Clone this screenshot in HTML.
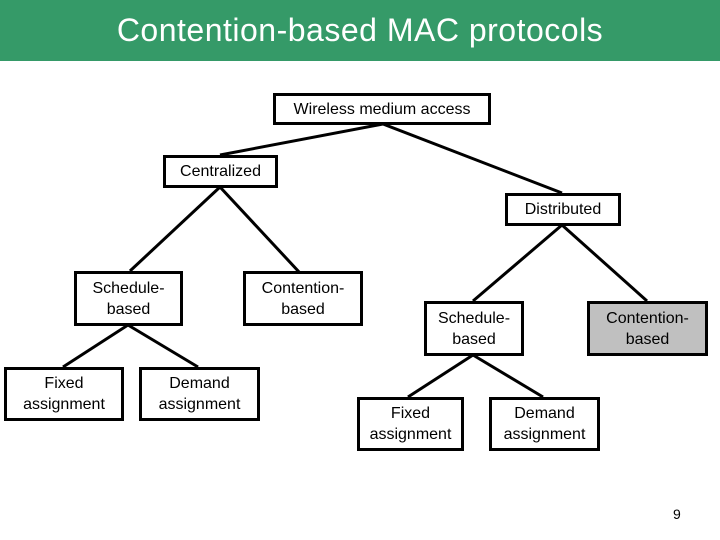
<!DOCTYPE html>
<html><head><style>
body{margin:0;width:720px;height:540px;background:#fff;position:relative;overflow:hidden;font-family:"Liberation Sans",sans-serif;}
.hd{position:absolute;left:0;top:0;width:720px;height:61px;background:#359a68;color:#fff;font-size:32px;text-align:center;line-height:60px;letter-spacing:0.5px}
.b{position:absolute;box-sizing:border-box;border:3px solid #000;background:#fff;display:flex;align-items:center;justify-content:center;text-align:center;font-size:16px;line-height:21px;color:#000}
svg{position:absolute;left:0;top:0}
</style></head><body>
<div class="hd">Contention-based MAC protocols</div>
<svg width="720" height="540"><g stroke="#000" stroke-width="3">
<line x1="383" y1="124" x2="220" y2="155"/><line x1="383" y1="124" x2="562" y2="193"/>
<line x1="220" y1="187" x2="130" y2="271"/><line x1="220" y1="187" x2="300" y2="273"/>
<line x1="562" y1="225" x2="473" y2="301"/><line x1="562" y1="225" x2="647" y2="301"/>
<line x1="128" y1="325" x2="63" y2="367"/><line x1="128" y1="325" x2="198" y2="367"/>
<line x1="473" y1="355" x2="408" y2="397"/><line x1="473" y1="355" x2="543" y2="397"/>
</g></svg>
<div class="b" style="left:273px;top:93px;width:218px;height:32px">Wireless medium access</div>
<div class="b" style="left:163px;top:155px;width:115px;height:33px">Centralized</div>
<div class="b" style="left:505px;top:193px;width:116px;height:33px">Distributed</div>
<div class="b" style="left:74px;top:271px;width:109px;height:55px">Schedule-<br>based</div>
<div class="b" style="left:243px;top:271px;width:120px;height:55px">Contention-<br>based</div>
<div class="b" style="left:4px;top:367px;width:120px;height:54px">Fixed<br>assignment</div>
<div class="b" style="left:139px;top:367px;width:121px;height:54px">Demand<br>assignment</div>
<div class="b" style="left:424px;top:301px;width:100px;height:55px">Schedule-<br>based</div>
<div class="b" style="left:587px;top:301px;width:121px;height:55px;background:#c0c0c0">Contention-<br>based</div>
<div class="b" style="left:357px;top:397px;width:107px;height:54px">Fixed<br>assignment</div>
<div class="b" style="left:489px;top:397px;width:111px;height:54px">Demand<br>assignment</div>
<div style="position:absolute;left:673px;top:506px;font-size:14px">9</div>
</body></html>
